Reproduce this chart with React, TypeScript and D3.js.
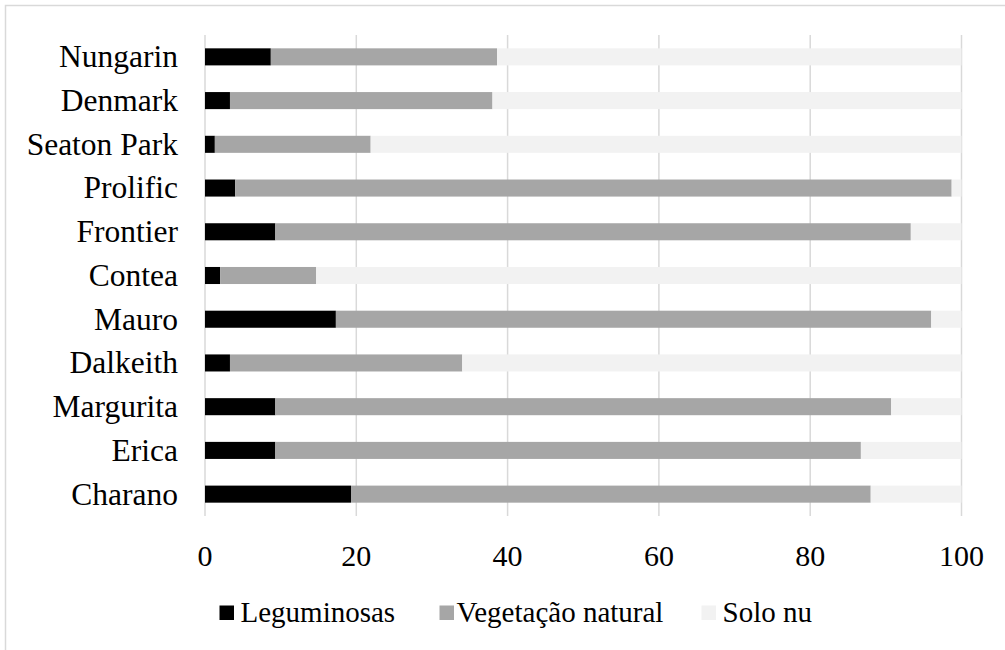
import React from "react";
import * as d3 from "d3";

const categories = ["Nungarin", "Denmark", "Seaton Park", "Prolific", "Frontier", "Contea", "Mauro", "Dalkeith", "Margurita", "Erica", "Charano"];
const leguminosas = [8.7, 3.3, 1.3, 4.0, 9.3, 2.0, 17.3, 3.3, 9.3, 9.3, 19.3];
const vegetacaoEnd = [38.6, 38.0, 21.9, 98.7, 93.3, 14.7, 96.0, 34.0, 90.7, 86.7, 88.0];
const vegetacao = vegetacaoEnd.map((v, i) => +(v - leguminosas[i]).toFixed(1));
const soloNu = vegetacaoEnd.map((v) => +(100 - v).toFixed(1));
const seriesNames = ["Leguminosas", "Vegetação natural", "Solo nu"];
const seriesColors = ["#000000", "#a6a6a6", "#f2f2f2"];
const xTicks = [0, 20, 40, 60, 80, 100];

const W = 1005;
const H = 650;
const FONT = "Liberation Serif, Times New Roman, serif";

export default function App() {
  const x = d3.scaleLinear().domain([0, 100]).range([205, 961.5]);
  const y = d3.scaleBand<string>().domain(categories).range([35, 516]).paddingInner(0.61).paddingOuter(0.305);
  const rows = categories.map((c, i) => ({ cat: c, Leguminosas: leguminosas[i], "Vegetação natural": vegetacao[i], "Solo nu": soloNu[i] }));
  const stack = d3.stack<any>().keys(seriesNames);
  const layers = stack(rows);
  const legendItems = [
    { sx: 219.5, tx: 240.5 },
    { sx: 439.5, tx: 456.5 },
    { sx: 701.5, tx: 722.5 },
  ];
  const textStyle = { fontFamily: FONT };
  return (
    <svg width={W} height={H} style={{ position: "absolute", left: 0, top: 0 }}>
      <rect x={0} y={0} width={W} height={H} fill="#fff" />
      <rect x={5.5} y={5.5} width={1010} height={660} fill="none" stroke="#d9d9d9" strokeWidth={1.5} />
      {xTicks.map((t) => (
        <line key={t} x1={x(t)} x2={x(t)} y1={35} y2={516} stroke="#d9d9d9" strokeWidth={1.5} />
      ))}
      {layers.map((layer, li) => (
        <g key={layer.key} fill={seriesColors[li]}>
          {layer.map((d, i) => (
            <rect key={i} x={x(d[0])} width={x(d[1]) - x(d[0])} y={y(categories[i])!} height={y.bandwidth()} />
          ))}
        </g>
      ))}
      {categories.map((c) => (
        <text key={c} style={textStyle} x={178} y={y(c)! + y.bandwidth() / 2} dy="0.33em" textAnchor="end" fontSize={31.5} fill="#000">
          {c}
        </text>
      ))}
      {xTicks.map((t) => (
        <text key={t} style={textStyle} x={x(t)} y={566} textAnchor="middle" fontSize={30} fill="#000">
          {t}
        </text>
      ))}
      {seriesNames.map((s, i) => (
        <g key={s}>
          <rect x={legendItems[i].sx} y={605.5} width={14.5} height={14.5} fill={seriesColors[i]} />
          <text style={textStyle} x={legendItems[i].tx} y={622} fontSize={29} fill="#000">
            {s}
          </text>
        </g>
      ))}
    </svg>
  );
}
